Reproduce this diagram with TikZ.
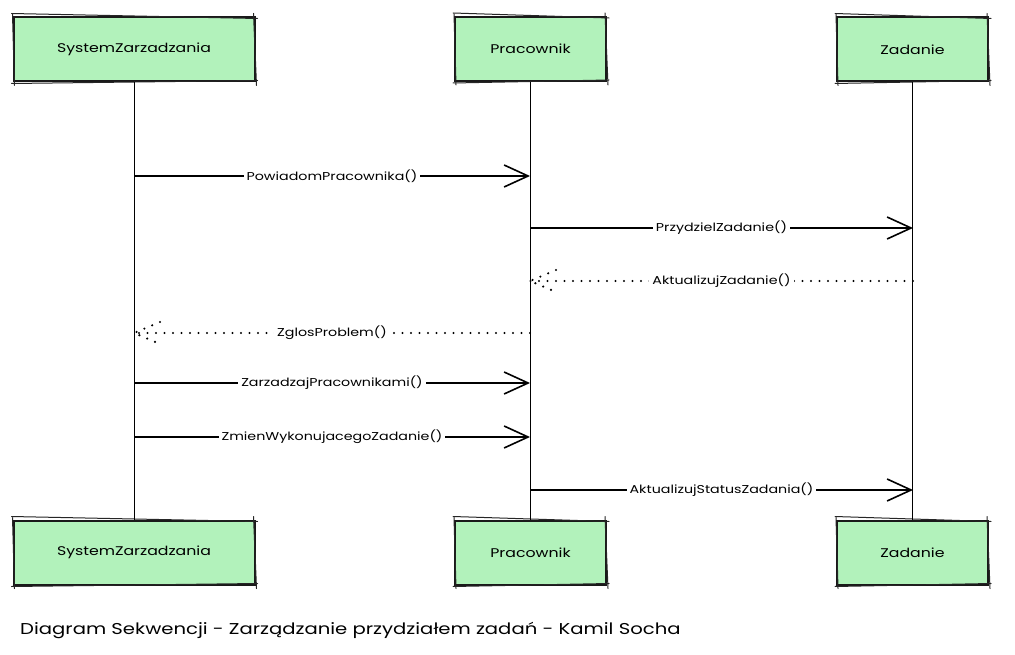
\documentclass[tikz,border=0pt]{standalone}
\usepackage{fontspec}
\setmainfont[FakeStretch=1.25]{Poppins}
\usetikzlibrary{arrows.meta,calc}
\definecolor{boxgreen}{HTML}{B2F2BB}
\tikzset{
  actor/.style={draw=black!90, line width=2pt, fill=boxgreen, minimum height=64pt,
     inner sep=0pt, font=\fontsize{12.6}{14}\selectfont},
  sketch/.style={draw=black!85, line width=1pt, line cap=round},
  life/.style={line width=1pt, black},
  msg/.style={line width=1.8pt, -{Straight Barb[length=24pt,width=22pt,line width=1.6pt]}},
  ret/.style={line width=2.4pt, line cap=round, dash pattern=on 0pt off 8.5pt},
  lbl/.style={fill=white, inner sep=3pt, font=\fontsize{11.4}{13}\selectfont, text=black}
}
\begin{document}
\begin{tikzpicture}[x=1pt,y=-1pt]
\useasboundingbox (0,0) rectangle (1015,655);
\fill[white] (0,0) rectangle (1015,655);
% actors
\node[actor, minimum width=241pt] (t1) at (134,49.5) {SystemZarzadzania};
\node[actor, minimum width=151pt] (t2) at (530.5,49) {Pracownik};
\node[actor, minimum width=151pt] (t3) at (912.5,49.5) {Zadanie};
\node[actor, minimum width=241pt] (b1) at (134,552.5) {SystemZarzadzania};
\node[actor, minimum width=151pt] (b2) at (530.5,552.5) {Pracownik};
\node[actor, minimum width=151pt] (b3) at (912.5,552.5) {Zadanie};
% hand-drawn second strokes
\foreach \n in {t1,t2,t3,b1,b2,b3} {
  \draw[sketch] ($(\n.north west)+(-1,-3)$) -- ($(\n.north east)+(2,2)$);
  \draw[sketch] ($(\n.north east)+(-2,-3)$) -- ($(\n.south east)+(1,3)$);
  \draw[sketch] ($(\n.south east)+(2,-2)$) -- ($(\n.south west)+(-1,1)$);
  \draw[sketch] ($(\n.south west)+(2,3)$) -- ($(\n.north west)+(0,-2)$);
}
% lifelines
\draw[life] (t1.south) -- (b1.north);
\draw[life] (t2.south) -- (b2.north);
\draw[life] (t3.south) -- (b3.north);
% message anchor points
\foreach \y [count=\i] in {176,228,281,333,383,437,490} {
  \coordinate (s\i) at (134,\y);
  \coordinate (p\i) at (530,\y);
  \coordinate (z\i) at (913,\y);
}
\draw[msg] (s1) -- node[lbl]{PowiadomPracownika()} (p1);
\draw[msg] (p2) -- node[lbl]{PrzydzielZadanie()} (z2);
\draw[ret] (z3) -- node[lbl]{AktualizujZadanie()} (p3);
\draw[ret] ($(p3)+(26,-11)$) -- (p3) -- ($(p3)+(26,11)$);
\draw[ret] (p4) -- node[lbl]{ZglosProblem()} (s4);
\draw[ret] ($(s4)+(26,-11)$) -- (s4) -- ($(s4)+(26,11)$);
\draw[msg] (s5) -- node[lbl]{ZarzadzajPracownikami()} (p5);
\draw[msg] (s6) -- node[lbl]{ZmienWykonujacegoZadanie()} (p6);
\draw[msg] (p7) -- node[lbl]{AktualizujStatusZadania()} (z7);
% caption
\node[anchor=west, inner sep=0pt, font=\fontsize{15.7}{18}\selectfont] (cap) at (20,630)
  {Diagram Sekwencji - Zarządzanie przydziałem zadań - Kamil Socha};
\end{tikzpicture}
\end{document}
